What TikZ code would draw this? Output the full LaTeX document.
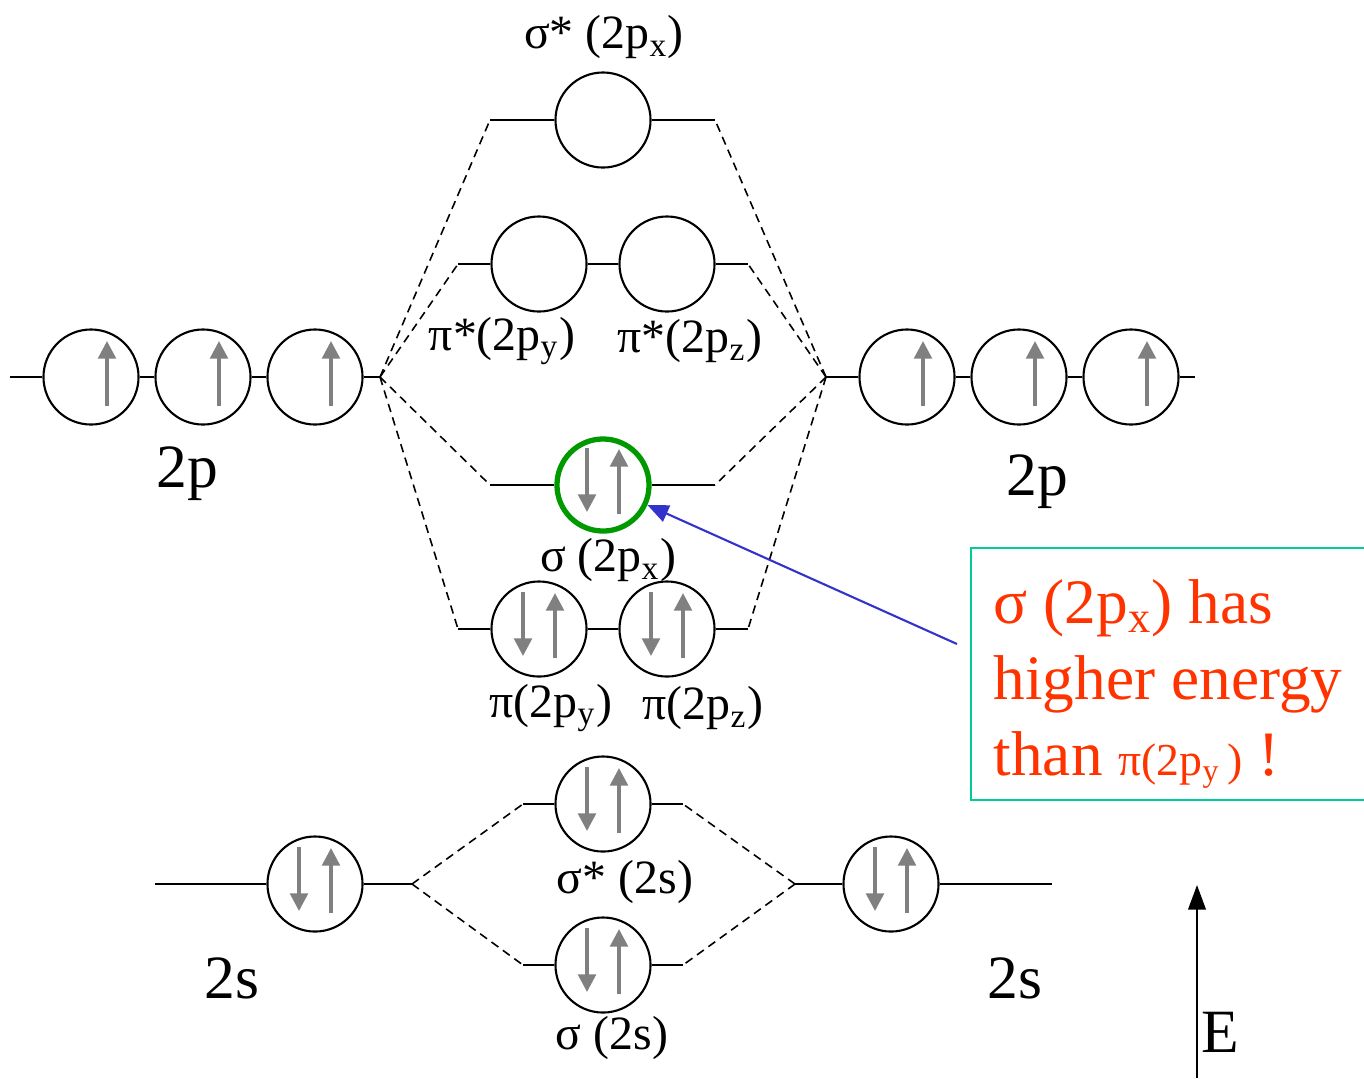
\documentclass[tikz,border=0pt]{standalone}
\usepackage{fontspec}
\setmainfont{Liberation Serif}
\usetikzlibrary{arrows.meta}
\definecolor{spingray}{RGB}{128,128,128}
\definecolor{boxteal}{RGB}{0,204,153}
\definecolor{notered}{RGB}{255,51,0}
\definecolor{sigmagreen}{RGB}{0,153,0}
\definecolor{pointblue}{RGB}{51,51,204}

% electron arrows inside an orbital circle
\newcommand{\spinup}[1]{\draw[elec] (#1.center) ++(16,29) -- ++(0,-65);}
\newcommand{\spinpair}[1]{\draw[elec] (#1.center) ++(-16,-37) -- ++(0,64); \spinup{#1}}

\begin{document}
\begin{tikzpicture}[x=0.01cm, y=-0.01cm, font=\rmfamily\fontsize{13.6}{16}\selectfont,
    orb/.style={circle, draw, line width=0.6pt, minimum size=0.95cm, inner sep=0pt},
    level/.style={line width=0.6pt},
    link/.style={dash pattern=on 2.4pt off 1.6pt, line width=0.45pt},
    elec/.style={spingray, line width=1pt, -{Triangle[width=5pt,length=5pt]}},
    big/.style={font=\rmfamily\fontsize{17.5}{19}\selectfont}]

  \useasboundingbox (0,0) rectangle (1364,1078);

  % atomic 2p, left and right
  \node[orb] (pL1) at (91,377) {};
  \node[orb] (pL2) at (203,377) {};
  \node[orb] (pL3) at (315,377) {};
  \coordinate (pLa) at (10,377);
  \coordinate (pLb) at (380,377);
  \node[orb] (pR1) at (907,377) {};
  \node[orb] (pR2) at (1019,377) {};
  \node[orb] (pR3) at (1131,377) {};
  \coordinate (pRa) at (826,377);
  \coordinate (pRb) at (1195,377);
  \draw[level] (pLa) -- (pL1) -- (pL2) -- (pL3) -- (pLb);
  \draw[level] (pRa) -- (pR1) -- (pR2) -- (pR3) -- (pRb);
  \foreach \o in {pL1,pL2,pL3,pR1,pR2,pR3} {\spinup{\o}}
  \node[big] (lbl2pL) at (187,474) {2p};
  \node[big] (lbl2pR) at (1037,482) {2p};

  % sigma* (2px)
  \node[orb] (sxs) at (603,120) {};
  \coordinate (sxsL) at (490,120);
  \coordinate (sxsR) at (715,120);
  \draw[level] (sxsL) -- (sxs) -- (sxsR);
  \node (lblsxs) at (604,37) {σ* (2p\textsubscript{x})};

  % pi* (2py, 2pz)
  \node[orb] (pys) at (539,264) {};
  \node[orb] (pzs) at (667,264) {};
  \coordinate (pysL) at (458,264);
  \coordinate (pzsR) at (748,264);
  \draw[level] (pysL) -- (pys) -- (pzs) -- (pzsR);
  \node (lblpys) at (502,341) {π*(2p\textsubscript{y})};
  \node (lblpzs) at (690,341) {π*(2p\textsubscript{z})};

  % sigma (2px)
  \node[orb, draw=sigmagreen, line width=1.5pt, minimum size=0.92cm] (sx) at (603,485) {};
  \coordinate (sxL) at (490,485);
  \coordinate (sxR) at (715,485);
  \draw[level] (sxL) -- (sx) -- (sxR);
  \spinpair{sx}
  \node (lblsx) at (608,560) {σ (2p\textsubscript{x})};

  % pi (2py, 2pz)
  \node[orb] (py) at (539,629) {};
  \node[orb] (pz) at (667,629) {};
  \coordinate (pyL) at (458,629);
  \coordinate (pzR) at (748,629);
  \draw[level] (pyL) -- (py) -- (pz) -- (pzR);
  \spinpair{py}
  \spinpair{pz}
  \node (lblpy) at (551,708) {π(2p\textsubscript{y})};
  \node (lblpz) at (703,708) {π(2p\textsubscript{z})};

  % dashed correlation lines, 2p
  \foreach \t in {sxsL,pysL,sxL,pyL} {\draw[link] (pLb) -- (\t);}
  \foreach \t in {sxsR,pzsR,sxR,pzR} {\draw[link] (pRa) -- (\t);}

  % atomic 2s and molecular sigma (2s)
  \node[orb] (sL) at (315,884) {};
  \coordinate (sLa) at (155,884);
  \coordinate (sLb) at (412,884);
  \node[orb] (sR) at (891,884) {};
  \coordinate (sRa) at (795,884);
  \coordinate (sRb) at (1052,884);
  \draw[level] (sLa) -- (sL) -- (sLb);
  \draw[level] (sRa) -- (sR) -- (sRb);
  \node[big] (lbl2sL) at (232,978) {2s};
  \node[big] (lbl2sR) at (1015,978) {2s};

  \node[orb] (ss) at (603,804) {};
  \coordinate (ssL) at (523,804);
  \coordinate (ssR) at (683,804);
  \node[orb] (s2) at (603,965) {};
  \coordinate (s2L) at (523,965);
  \coordinate (s2R) at (683,965);
  \draw[level] (ssL) -- (ss) -- (ssR);
  \draw[level] (s2L) -- (s2) -- (s2R);
  \node (lblss) at (625,882) {σ* (2s)};
  \node (lbls2) at (612,1038) {σ (2s)};
  \foreach \o in {sL,sR,ss,s2} {\spinpair{\o}}

  \draw[link] (sLb) -- (ssL);
  \draw[link] (sLb) -- (s2L);
  \draw[link] (sRa) -- (ssR);
  \draw[link] (sRa) -- (s2R);

  % note
  \draw[boxteal, line width=0.8pt] (971,548) rectangle (1372,800);
  \node[anchor=north west, inner sep=0pt, align=left, text=notered,
        font=\rmfamily\fontsize{18}{21.6}\selectfont] (note) at (993,579)
    {σ (2p\textsubscript{x}) has\\ higher energy\\
     than {\fontsize{13}{15}\selectfont π(2p\textsubscript{y}\,)} !};
  \coordinate (noteptr) at (957,644);
  \draw[pointblue, line width=0.6pt, -{Triangle[width=5pt,length=6pt]}] (noteptr) -- (sx);

  % energy axis
  \coordinate (Ebot) at (1197,1078);
  \coordinate (Etop) at (1197,885);
  \draw[line width=0.6pt, -{Triangle[width=5pt,length=7pt]}] (Ebot) -- (Etop);
  \node[font=\rmfamily\fontsize{17.5}{19}\selectfont] (lblE) at (1220,1032) {E};
\end{tikzpicture}
\end{document}
